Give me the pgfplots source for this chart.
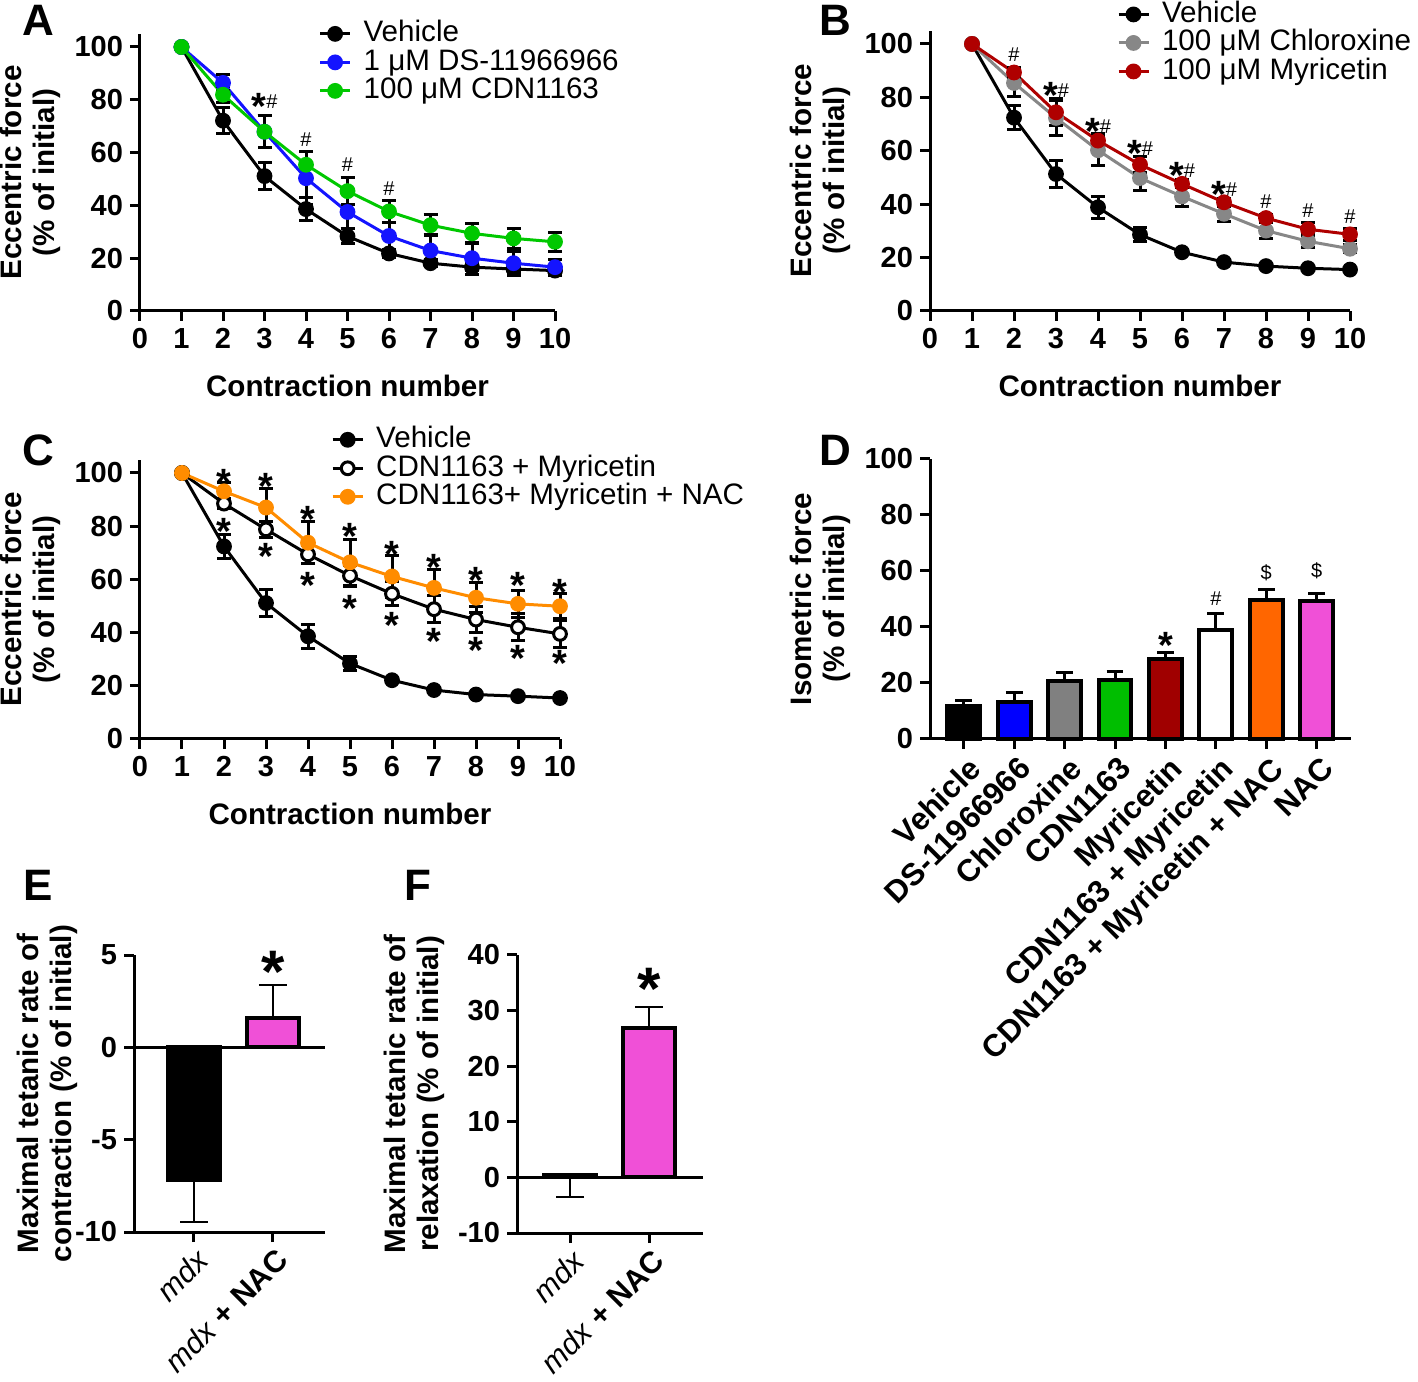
\documentclass[border=0pt]{standalone}
\usepackage{pgfplots}
\pgfplotsset{compat=1.18}
\usepackage{fontspec}
\setmainfont{Liberation Sans}
\definecolor{cblue}{RGB}{20,20,255}
\definecolor{cgreen}{RGB}{0,200,0}
\definecolor{cgray}{RGB}{135,135,135}
\definecolor{cred}{RGB}{175,0,0}
\definecolor{corange}{RGB}{255,140,0}
\definecolor{bblue}{RGB}{0,0,255}
\definecolor{bgray}{RGB}{128,128,128}
\definecolor{bgreen}{RGB}{0,190,0}
\definecolor{bred}{RGB}{160,0,0}
\definecolor{borange}{RGB}{255,102,0}
\definecolor{bpink}{RGB}{240,80,215}
\pgfplotsset{
 base/.style={
  scale only axis, clip=false, anchor=south west,
  axis x line*=bottom, axis y line*=left,
  axis line style={line width=1.5pt, black},
  every tick/.style={black, line width=1.5pt},
  tick align=outside, major tick length=5pt,
  tick label style={font=\bfseries\fontsize{14.5}{14.5}\selectfont},
  label style={font=\bfseries\fontsize{14.8}{16.5}\selectfont, align=center},
  /pgf/number format/assume math mode=true,
 },
 curve/.style={base, xmin=0, xmax=10, xtick={0,...,10}, ymin=0, ymax=105, ytick={0,20,...,100},
  xlabel={Contraction number}, ylabel={Eccentric force\\(\% of initial)},
  xlabel style={yshift=-6.5pt},
  legend style={draw=none, fill=none, anchor=north west, legend cell align=left, column sep=5pt,
   font=\fontsize{14.8}{14.8}\selectfont, nodes={inner sep=1pt, text height=10pt, text depth=2.25pt}, row sep=0pt},
  legend image code/.code={\draw[mark repeat=2,mark phase=2,##1] plot coordinates {(0pt,0pt) (7.5pt,0pt) (15pt,0pt)};},
 },
 ser/.style={line width=1.5pt, mark=*, mark size=3.2pt, mark options={solid},
  error bars/y dir=both, error bars/y explicit,
  error bars/error bar style={line width=1.5pt, black},
  error bars/error mark options={rotate=90, mark size=3.5pt, line width=1.5pt, black}},
 bars/.style={ybar, bar width=0.65, bar shift=0pt, draw=black, line width=2pt,
  error bars/y dir=plus, error bars/y explicit,
  error bars/error bar style={line width=1.5pt, black},
  error bars/error mark options={rotate=90, mark size=4.2pt, line width=1.5pt, black}},
}
\tikzset{
 ast/.style={font=\bfseries\fontsize{19}{19}\selectfont, anchor=base, yshift=-10.5pt, inner sep=0pt},
 hsh/.style={font=\fontsize{10}{10}\selectfont, anchor=base, yshift=-4pt, inner sep=0pt},
}
\newcommand{\sh}{\raisebox{5.5pt}{\fontsize{10}{10}\mdseries\selectfont\#}}
\begin{document}
\begin{tikzpicture}
\path[use as bounding box] (0,0) rectangle (709pt,690.5pt);
\begin{scope}[font=\bfseries\fontsize{22}{22}\selectfont]
\node at (19pt,680.5pt) {A};
\node at (417.5pt,680.5pt) {B};
\node at (19pt,465.5pt) {C};
\node at (417.5pt,465.5pt) {D};
\node at (19pt,248pt) {E};
\node at (209pt,248pt) {F};
\end{scope}
% ---------------- A
\begin{axis}[curve, at={(70pt,535pt)}, width=207.5pt, height=138.6pt, legend style={at={(0.415,1.067)}}]
\addplot[black, ser] coordinates {(1,100) +- (0,0) (2,72.1) +- (0,4.8) (3,51.1) +- (0,5.2) (4,38.6) +- (0,4.3) (5,28.3) +- (0,2.8) (6,21.8) +- (0,1.5) (7,18.1) +- (0,1.3) (8,16.6) +- (0,1.4) (9,15.9) +- (0,1.4) (10,15.3) +- (0,1.5)};
\addlegendentry{Vehicle}
\addplot[cblue, ser] coordinates {(1,100) +- (0,0) (2,86.4) +- (0,3) (3,67.9) +- (0,6) (4,50.3) +- (0,10) (5,37.5) +- (0,8.5) (6,28.4) +- (0,5) (7,22.9) +- (0,6) (8,20) +- (0,6) (9,18.1) +- (0,4.5) (10,16.6) +- (0,3)};
\addlegendentry{1 μM DS-11966966}
\addplot[cgreen, ser] coordinates {(1,100) +- (0,0) (2,81.9) +- (0,3) (3,67.9) +- (0,6) (4,55.4) +- (0,5) (5,45.4) +- (0,5) (6,37.7) +- (0,4) (7,32.5) +- (0,3.9) (8,29.4) +- (0,3.8) (9,27.5) +- (0,3.7) (10,26.2) +- (0,3.7)};
\addlegendentry{100 μM CDN1163}
\node[ast] at (axis cs:3,80.6) {*\sh};
\node[hsh] at (axis cs:4,65.4) {\#};
\node[hsh] at (axis cs:5,55.8) {\#};
\node[hsh] at (axis cs:6,46.9) {\#};
\end{axis}
% ---------------- B
\begin{axis}[curve, at={(465pt,535pt)}, width=210pt, height=140.2pt, legend style={at={(0.43,1.124)}}]
\addplot[black, ser] coordinates {(1,100) +- (0,0) (2,72.4) +- (0,4.5) (3,51.3) +- (0,5.2) (4,38.8) +- (0,4.2) (5,28.6) +- (0,2.6) (6,22.0) +- (0,1) (7,18.3) +- (0,1) (8,16.8) +- (0,0.8) (9,16.0) +- (0,0.8) (10,15.5) +- (0,0.8)};
\addlegendentry{Vehicle}
\addplot[cgray, ser] coordinates {(1,100) +- (0,0) (2,85.4) +- (0,5) (3,72.3) +- (0,6.6) (4,60.2) +- (0,5.6) (5,49.8) +- (0,4.6) (6,42.9) +- (0,3.8) (7,36.4) +- (0,3) (8,30.1) +- (0,3) (9,26.1) +- (0,2.5) (10,23.3) +- (0,1.5)};
\addlegendentry{100 μM Chloroxine}
\addplot[cred, ser] coordinates {(1,100) +- (0,0) (2,89.3) +- (0,2) (3,74.4) +- (0,5) (4,63.8) +- (0,2.5) (5,54.8) +- (0,3) (6,47.6) +- (0,1.5) (7,40.7) +- (0,1.5) (8,34.8) +- (0,1.5) (9,30.6) +- (0,2.5) (10,28.7) +- (0,2.2)};
\addlegendentry{100 μM Myricetin}
\node[hsh] at (axis cs:2,96.4) {\#};
\node[ast] at (axis cs:3,83.6) {*\sh};
\node[ast] at (axis cs:4,70.3) {*\sh};
\node[ast] at (axis cs:5,61.9) {*\sh};
\node[ast] at (axis cs:6,53.7) {*\sh};
\node[ast] at (axis cs:7,46.8) {*\sh};
\node[hsh] at (axis cs:8,41.2) {\#};
\node[hsh] at (axis cs:9,38) {\#};
\node[hsh] at (axis cs:10,35.6) {\#};
\end{axis}
% ---------------- C
\begin{axis}[curve, at={(70pt,321pt)}, width=210pt, height=139.65pt, legend style={at={(0.44,1.138)}}]
\addplot[black, ser] coordinates {(1,100) +- (0,0) (2,72.4) +- (0,4.5) (3,51.1) +- (0,5.2) (4,38.6) +- (0,4.5) (5,28.4) +- (0,2.5) (6,22.1) +- (0,1) (7,18.4) +- (0,1) (8,16.7) +- (0,0.8) (9,16.1) +- (0,0.8) (10,15.4) +- (0,0.8)};
\addlegendentry{Vehicle}
\addplot[black, ser, mark options={fill=white}] coordinates {(1,100) +- (0,0) (2,88.5) +- (0,2) (3,78.8) +- (0,3) (4,69.4) +- (0,3.5) (5,61.4) +- (0,4) (6,54.6) +- (0,4.5) (7,48.8) +- (0,5) (8,44.9) +- (0,5) (9,42) +- (0,5) (10,39.5) +- (0,5)};
\addlegendentry{CDN1163 + Myricetin}
\addplot[corange, ser] coordinates {(1,100) +- (0,0) (2,93.1) +- (0,3.3) (3,87) +- (0,7) (4,73.8) +- (0,8) (5,66.4) +- (0,8.6) (6,61.1) +- (0,8) (7,56.8) +- (0,7) (8,53.1) +- (0,5.7) (9,50.8) +- (0,5) (10,49.9) +- (0,4.7)};
\addlegendentry{CDN1163+ Myricetin + NAC}
\node[ast] at (axis cs:2,99.6) {*};
\node[ast] at (axis cs:3,97.8) {*};
\node[ast] at (axis cs:4,85.6) {*};
\node[ast] at (axis cs:5,79) {*};
\node[ast] at (axis cs:6,72.3) {*};
\node[ast] at (axis cs:7,67.6) {*};
\node[ast] at (axis cs:8,62.6) {*};
\node[ast] at (axis cs:9,60.7) {*};
\node[ast] at (axis cs:10,58.2) {*};
\node[ast] at (axis cs:2,80.9) {*};
\node[ast] at (axis cs:3,71.5) {*};
\node[ast] at (axis cs:4,60.8) {*};
\node[ast] at (axis cs:5,52.1) {*};
\node[ast] at (axis cs:6,45.8) {*};
\node[ast] at (axis cs:7,39.5) {*};
\node[ast] at (axis cs:8,36.4) {*};
\node[ast] at (axis cs:9,33.2) {*};
\node[ast] at (axis cs:10,31.4) {*};
\end{axis}
% ---------------- D
\begin{axis}[base, at={(465pt,321pt)}, width=210.5pt, height=140pt, xmin=-0.67, xmax=7.68, ymin=0, ymax=100, ytick={0,20,...,100},
 xtick={0,...,7}, xticklabels={Vehicle, DS-11966966, Chloroxine, CDN1163, Myricetin, CDN1163 + Myricetin, CDN1163 + Myricetin + NAC, NAC},
 x tick label style={rotate=45, anchor=north east, inner sep=1pt, yshift=-2pt, font=\bfseries\fontsize{15.6}{15.6}\selectfont},
 ylabel={Isometric force\\(\% of initial)}]
\addplot[bars, fill=black] coordinates {(0,11.7) += (0,2.1)};
\addplot[bars, fill=bblue] coordinates {(1,13.1) += (0,3.4)};
\addplot[bars, fill=bgray] coordinates {(2,20.6) += (0,3.3)};
\addplot[bars, fill=bgreen] coordinates {(3,21.0) += (0,3.2)};
\addplot[bars, fill=bred] coordinates {(4,28.5) += (0,2.5)};
\addplot[bars, fill=white] coordinates {(5,38.8) += (0,6)};
\addplot[bars, fill=borange] coordinates {(6,49.6) += (0,3.8)};
\addplot[bars, fill=bpink] coordinates {(7,49.2) += (0,2.8)};
\node[ast] at (axis cs:4,36.4) {*};
\node[hsh] at (axis cs:5,50.4) {\#};
\node[hsh] at (axis cs:6,59.8) {\$};
\node[hsh] at (axis cs:7,60.4) {\$};
\end{axis}
% ---------------- E
\begin{axis}[base, at={(67pt,74.5pt)}, width=95.5pt, height=138.5pt, xmin=-0.76, xmax=1.66, ymin=-10, ymax=5, ytick={-10,-5,0,5},
 xtick={0,1}, xticklabels={\textit{mdx}, \textit{mdx} \textbf{+ NAC}},
 x tick label style={rotate=45, anchor=north east, inner sep=1pt, yshift=-1pt, font=\mdseries\fontsize{15.2}{15.2}\selectfont},
 ylabel={Maximal tetanic rate of\\contraction (\% of initial)}, ylabel style={yshift=-8pt}]
\draw[line width=1.5pt] (axis cs:-0.76,0) -- (axis cs:1.66,0);
\addplot[bars, bar width=0.66, fill=black, error bars/y dir=minus, error bars/error bar style={line width=1pt}, error bars/error mark options={rotate=90, mark size=7pt, line width=1pt}] coordinates {(0,-7.2) -= (0,2.26)};
\addplot[bars, bar width=0.66, fill=bpink, error bars/error bar style={line width=1pt}, error bars/error mark options={rotate=90, mark size=7pt, line width=1pt}] coordinates {(1,1.61) += (0,1.77)};
\node[font=\bfseries\fontsize{30}{30}\selectfont, anchor=base, yshift=-17pt, inner sep=0pt] at (axis cs:1,4.8) {*};
\end{axis}
% ---------------- F
\begin{axis}[base, at={(258.5pt,74pt)}, width=93pt, height=139pt, xmin=-0.67, xmax=1.68, ymin=-10, ymax=40, ytick={-10,0,...,40},
 xtick={0,1}, xticklabels={\textit{mdx}, \textit{mdx} \textbf{+ NAC}},
 x tick label style={rotate=45, anchor=north east, inner sep=1pt, yshift=-1pt, font=\mdseries\fontsize{15.2}{15.2}\selectfont},
 ylabel={Maximal tetanic rate of\\relaxation (\% of initial)}]
\draw[line width=1.5pt] (axis cs:-0.67,0) -- (axis cs:1.68,0);
\addplot[bars, bar width=0.66, fill=black, error bars/y dir=minus, error bars/error bar style={line width=1pt}, error bars/error mark options={rotate=90, mark size=7pt, line width=1pt}] coordinates {(0,0.4) -= (0,3.9)};
\addplot[bars, bar width=0.66, fill=bpink, error bars/error bar style={line width=1pt}, error bars/error mark options={rotate=90, mark size=7pt, line width=1pt}] coordinates {(1,26.8) += (0,3.9)};
\node[font=\bfseries\fontsize{30}{30}\selectfont, anchor=base, yshift=-17pt, inner sep=0pt] at (axis cs:1,36.4) {*};
\end{axis}
\end{tikzpicture}
\end{document}
